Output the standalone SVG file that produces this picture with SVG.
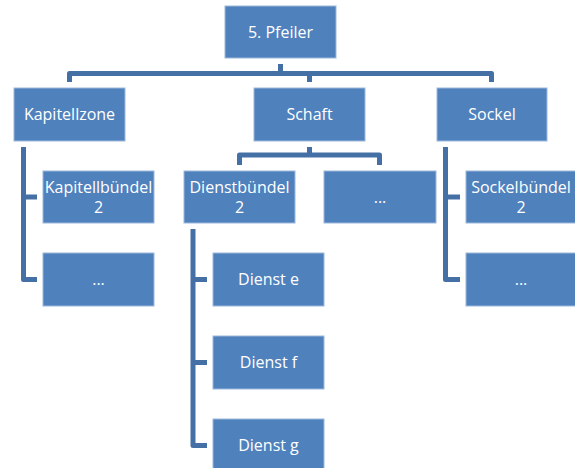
<svg xmlns="http://www.w3.org/2000/svg" width="575" height="468" viewBox="0 0 575 468">
<style>
.box{fill:#4F81BD;stroke:#9DB8DC;stroke-width:1}
.t{font-family:"Open Sans","Liberation Sans",sans-serif;font-size:16px;fill:#FFFFFF;text-anchor:middle}
.c{fill:none;stroke:#4470A6;stroke-width:5;stroke-linejoin:round;stroke-linecap:butt}
</style>
<rect width="575" height="468" fill="#FFFFFF"/>
<g id="connectors">
<path class="c" d="M280.5,64 V73.5"/>
<path class="c" d="M69.5,82 V73.5 H491.5 V82"/>
<path class="c" d="M309.5,73.5 V82"/>
<path class="c" d="M23.5,147 V279.5 H37"/>
<path class="c" d="M23.5,197 H37"/>
<path class="c" d="M445.5,147 V279.5 H460"/>
<path class="c" d="M445.5,197 H460"/>
<path class="c" d="M309.5,147 V155"/>
<path class="c" d="M239.5,165 V155 H379.5 V165"/>
<path class="c" d="M193,229 V445.5 H207"/>
<path class="c" d="M193,279.5 H207"/>
<path class="c" d="M193,362.5 H207"/>
</g>
<g id="pfeiler"><rect class="box" x="225" y="6" width="111" height="52"/><text class="t" x="280.5" y="37.5">5. Pfeiler</text></g>
<g id="kapitellzone"><rect class="box" x="14" y="88" width="111" height="53"/><text class="t" x="69.5" y="120">Kapitellzone</text></g>
<g id="schaft"><rect class="box" x="254" y="88" width="111" height="53"/><text class="t" x="309.5" y="120">Schaft</text></g>
<g id="sockel"><rect class="box" x="437" y="88" width="110" height="53"/><text class="t" x="492" y="120">Sockel</text></g>
<g id="kapitellbuendel"><rect class="box" x="43" y="171" width="111" height="52"/><text class="t" x="98.5" y="192.7">Kapitellbündel</text><text class="t" x="98.5" y="213.3">2</text></g>
<g id="kapitell-etc"><rect class="box" x="43" y="253" width="111" height="53"/><text class="t" x="98.5" y="285">...</text></g>
<g id="dienstbuendel"><rect class="box" x="184" y="171" width="111" height="52"/><text class="t" x="239.5" y="192.7">Dienstbündel</text><text class="t" x="239.5" y="213.3">2</text></g>
<g id="schaft-etc"><rect class="box" x="324" y="171" width="112" height="52"/><text class="t" x="380" y="202.5">...</text></g>
<g id="sockelbuendel"><rect class="box" x="466" y="171" width="111" height="52"/><text class="t" x="521" y="192.7">Sockelbündel</text><text class="t" x="521" y="213.3">2</text></g>
<g id="sockel-etc"><rect class="box" x="466" y="253" width="111" height="53"/><text class="t" x="521" y="285">...</text></g>
<g id="dienst-e"><rect class="box" x="213" y="253" width="111" height="53"/><text class="t" x="268.5" y="285">Dienst e</text></g>
<g id="dienst-f"><rect class="box" x="213" y="336" width="111" height="53"/><text class="t" x="268.5" y="368">Dienst f</text></g>
<g id="dienst-g"><rect class="box" x="213" y="419" width="111" height="53"/><text class="t" x="268.5" y="451">Dienst g</text></g>
</svg>
